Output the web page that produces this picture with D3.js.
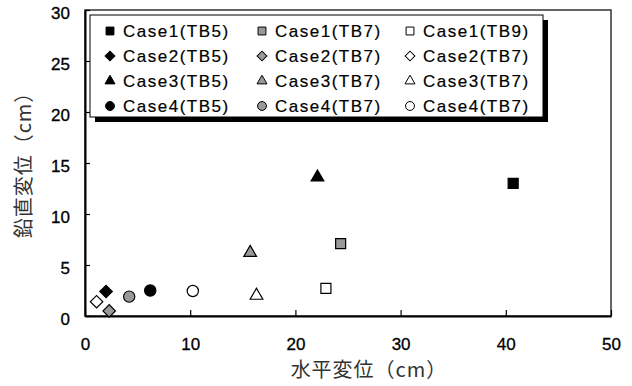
<!DOCTYPE html>
<html>
<head>
<meta charset="utf-8">
<script src="https://cdn.jsdelivr.net/npm/d3@7"></script>
<style>
  body { margin: 0; background: #fff; }
  text { font-family: "Liberation Sans", Arial, sans-serif; }
</style>
</head>
<body>
<div id="chart"></div>
<script>
// legend labels, in legend order (row by row)
const labels = [
  'Case1(TB5)', 'Case1(TB7)', 'Case1(TB9)',
  'Case2(TB5)', 'Case2(TB7)', 'Case2(TB7)',
  'Case3(TB5)', 'Case3(TB7)', 'Case3(TB7)',
  'Case4(TB5)', 'Case4(TB7)', 'Case4(TB7)'
];
const shapes = [
  'square', 'square', 'square',
  'diamond', 'diamond', 'diamond',
  'triangle', 'triangle', 'triangle',
  'circle', 'circle', 'circle'
];
const fills = [
  '#000', '#999', '#fff',
  '#000', '#999', '#fff',
  '#000', '#999', '#fff',
  '#000', '#999', '#fff'
];
// horizontal / vertical displacement (cm)
const xValues = [40.7, 24.3, 22.9, 2.0, 2.3, 1.1, 22.1, 15.7, 16.3, 6.2, 4.2, 10.25];
const yValues = [13.0, 7.1, 2.7, 2.4, 0.5, 1.4, 13.6, 6.2, 2.0, 2.5, 1.9, 2.45];

const xTicks = [0, 10, 20, 30, 40, 50];
const yTicks = [0, 5, 10, 15, 20, 25, 30];

const width = 632;
const height = 386;
const margin = { top: 10, right: 21, bottom: 70, left: 85 };

const svg = d3.select('#chart')
  .append('svg')
  .attr('width', width)
  .attr('height', height);

const x = d3.scaleLinear()
  .domain([0, 50])
  .range([margin.left, width - margin.right]);

const y = d3.scaleLinear()
  .domain([0, 30])
  .range([height - margin.bottom, margin.top]);

// plot frame
svg.append('rect')
  .attr('x', x(0))
  .attr('y', y(30))
  .attr('width', x(50) - x(0))
  .attr('height', y(0) - y(30))
  .attr('fill', 'none')
  .attr('stroke', '#333')
  .attr('stroke-width', 1.5);

function styleTicks(g) {
  g.selectAll('.tick text')
    .attr('font-size', '17px')
    .attr('fill', '#000')
    .attr('stroke', '#000')
    .attr('stroke-width', 0.3);
}

function xAxis(g) {
  g.attr('transform', `translate(0, ${y(0)})`)
    .call(d3.axisBottom(x).tickValues(xTicks).tickSizeInner(-6).tickSizeOuter(0).tickPadding(22))
    .call(g => g.select('.domain').attr('stroke-width', 2))
    .call(g => g.selectAll('.tick line').attr('stroke-width', 1.2))
    .call(styleTicks);
}

function yAxis(g) {
  g.attr('transform', `translate(${x(0)}, 0)`)
    .call(d3.axisLeft(y).tickValues(yTicks).tickSizeInner(-5).tickSizeOuter(0).tickPadding(15))
    .call(g => g.select('.domain').attr('stroke-width', 2))
    .call(g => g.selectAll('.tick line').attr('stroke-width', 1.2))
    .call(styleTicks)
    .call(g => g.selectAll('.tick text').attr('dy', '0.5em'));
}

svg.append('g').attr('font-family', null).call(xAxis);
svg.append('g').attr('font-family', null).call(yAxis);

const symbolType = {
  square: d3.symbolSquare,
  diamond: d3.symbolSquare,
  triangle: d3.symbolTriangle,
  circle: d3.symbolCircle
};
const markSize = { square: 100, diamond: 78, triangle: 70, circle: 100 };

function symbolPath(shape, scale) {
  return d3.symbol().type(symbolType[shape]).size(markSize[shape] * scale)();
}

function rot(shape) { return shape === 'diamond' ? ' rotate(45)' : ''; }

// data points
svg.append('g')
  .selectAll('path')
  .data(labels.map((l, i) => i))
  .join('path')
    .attr('d', i => symbolPath(shapes[i], 1))
    .attr('transform', i => `translate(${x(xValues[i])},${y(yValues[i])})` + rot(shapes[i]))
    .attr('fill', i => fills[i])
    .attr('stroke', '#000')
    .attr('stroke-width', 1.2);

// legend
const lg = svg.append('g');
const lgX = 90, lgY = 15, lgW = 453, lgH = 102;
lg.append('rect')
  .attr('x', lgX + 5).attr('y', lgY + 5)
  .attr('width', lgW).attr('height', lgH)
  .attr('fill', '#000');
lg.append('rect')
  .attr('x', lgX).attr('y', lgY)
  .attr('width', lgW).attr('height', lgH)
  .attr('fill', '#fff')
  .attr('stroke', '#000')
  .attr('stroke-width', 1);

const colX = [110, 262, 410];
const rowY = [32, 57, 82, 107];

const items = lg.selectAll('g.item')
  .data(labels.map((l, i) => i))
  .join('g')
    .attr('class', 'item')
    .attr('transform', i => `translate(${colX[i % 3]},${rowY[Math.floor(i / 3)] - 1})`);

items.append('path')
  .attr('d', i => symbolPath(shapes[i], 0.62))
  .attr('transform', i => rot(shapes[i]).trim())
  .attr('fill', i => fills[i])
  .attr('stroke', '#000')
  .attr('stroke-width', 1);

items.append('text')
  .attr('x', 13)
  .attr('y', 6)
  .attr('font-size', '17px')
  .attr('letter-spacing', '1.5px')
  .attr('stroke', '#000')
  .attr('stroke-width', 0.2)
  .text(i => labels[i]);

// axis titles
svg.append('text')
  .attr('x', 369)
  .attr('y', 377)
  .attr('text-anchor', 'middle')
  .attr('font-size', '20px')
  .attr('letter-spacing', '1px')
  .attr('fill', '#333')
  .style('font-family', '"Noto Sans CJK JP", sans-serif')
  .text('水平変位（cm）');

svg.append('text')
  .attr('transform', `translate(31, 160) rotate(-90)`)
  .attr('text-anchor', 'middle')
  .attr('font-size', '20px')
  .attr('letter-spacing', '1px')
  .attr('fill', '#333')
  .style('font-family', '"Noto Sans CJK JP", sans-serif')
  .text('鉛直変位（cm）');
</script>
</body>
</html>
